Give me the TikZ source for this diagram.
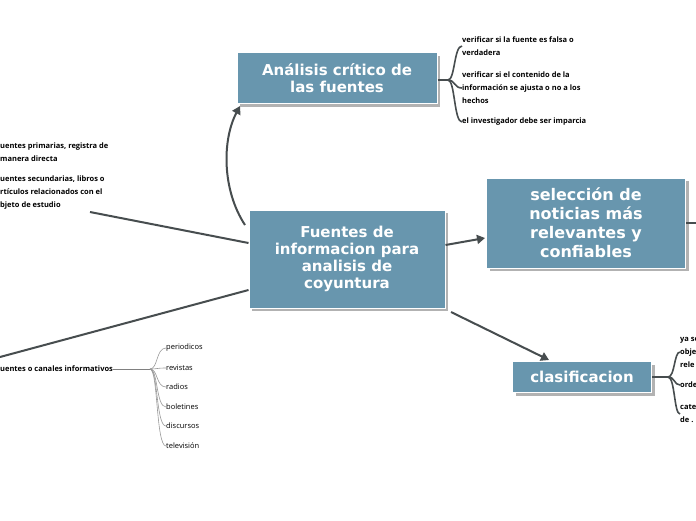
\documentclass[tikz,border=0pt]{standalone}
\usepackage{fontspec}
\setmainfont{Open Sans}
\newfontfamily\boxfont{DejaVu Sans}
\usetikzlibrary{arrows.meta,shadows}
\definecolor{boxblue}{HTML}{6896AE}
\definecolor{linegrey}{HTML}{474D4F}
\tikzset{
  topic/.style={fill=boxblue, draw=white, line width=1pt, text=white, align=center,
    font=\boxfont\bfseries\fontsize{15}{17}\selectfont,
    drop shadow={shadow xshift=3pt, shadow yshift=-3pt, fill=gray!60, opacity=1}},
  note/.style={anchor=west, align=left, font=\bfseries\fontsize{7.5}{13}\selectfont, inner sep=0pt},
  leaf/.style={anchor=west, font=\fontsize{7.5}{9}\selectfont, inner sep=0pt},
  conn/.style={draw=linegrey, line width=2pt},
  tip/.style={-{Triangle[length=8pt,width=9pt]}}
}
\begin{document}
\begin{tikzpicture}[x=1pt, y=-1pt]
  \clip (0,0) rectangle (696,520);
  \fill[white] (0,0) rectangle (696,520);
  % -- main topics
  \node[topic, minimum width=196pt, minimum height=98pt] (centro) at (347,259)
    {Fuentes de\\informacion para\\analisis de\\coyuntura};
  \node[topic, minimum width=200pt, minimum height=51pt] (analisis) at (337,78)
    {Análisis crítico de\\las fuentes};
  \node[topic, minimum width=199pt, minimum height=90pt, font=\boxfont\bfseries\fontsize{16}{19}\selectfont] (seleccion) at (586,223)
    {selección de\\noticias más\\relevantes y\\ confiables};
  \node[topic, minimum width=139pt, minimum height=31pt] (clasif) at (582,377) {clasificacion};

  % -- connectors
  \draw[conn, tip] (245,225) .. controls (222,190) and (222,140) .. (240,106);
  \draw[conn, tip] (centro.east |- 0,245) -- (485,238);
  \draw[conn, tip] (451,312) -- (549,360);
  \draw[conn] (seleccion.east) -- (696,223);
  \draw[conn] (centro.west |- 0,243) -- (90,212);
  \draw[conn] (centro.west |- 0,290) -- (0,357);

  % -- top right notes
  \coordinate (brA) at (448,80);
  \node[note] (n1) at (462,46) {verificar si la fuente es falsa o\\verdadera};
  \node[note] (n2) at (462,88) {verificar si el contenido de la\\información se ajusta o no a los\\hechos};
  \node[note] (n3) at (462,122) {el investigador debe ser imparcia};
  \draw[linegrey, line width=1.6pt] (analisis.east |- brA) -- (brA);
  \foreach\n in {n1, n2, n3}
    \draw[linegrey, line width=1.6pt] (brA) .. controls (455,80) and ([xshift=-8pt]\n.west) .. (\n.west);

  % -- left notes
  \node[note] (p1) at (0,152) {uentes primarias, registra de\\manera directa};
  \node[note] (p2) at (0,193) {uentes secundarias, libros o\\rtículos relacionados con el\\bjeto de estudio};
  \node[note] (canal) at (0,369) {uentes o canales informativos};
  \coordinate (brC) at (150,369);
  \draw[gray, line width=.6pt] (canal.east) -- (brC);
  \foreach\t/\y in {periodicos/348, revistas/368, radios/387, boletines/407, discursos/426, televisión/446} {
    \node[leaf] (l\y) at (166,\y) {\t};
    \draw[gray!80, line width=.6pt] (brC) .. controls (158,369) and ([xshift=-10pt]l\y.west) .. (l\y.west);
  }

  % -- bottom right notes
  \coordinate (brB) at (668,377);
  \node[note] (m1) at (680,352) {ya se\\obje\\rele};
  \node[note] (m2) at (680,385) {orde};
  \node[note] (m3) at (680,414) {cate\\de .};
  \draw[linegrey, line width=1.6pt] (clasif.east) -- (brB);
  \foreach\n in {m1, m2, m3}
    \draw[linegrey, line width=1.6pt] (brB) .. controls (675,377) and ([xshift=-6pt]\n.west) .. (\n.west);
\end{tikzpicture}
\end{document}
